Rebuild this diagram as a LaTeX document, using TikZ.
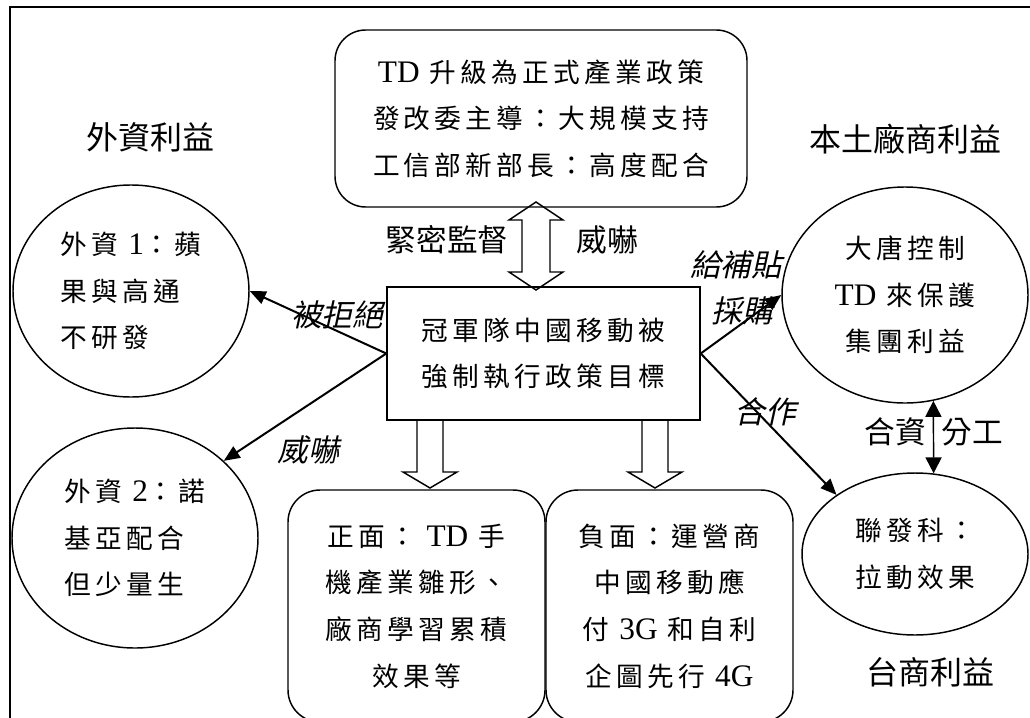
\documentclass[tikz,border=0pt]{standalone}
\usepackage{fontspec}
\setmainfont{Liberation Serif}
\newfontfamily\cjk{Noto Sans CJK TC}[LetterSpace=16]
\newfontfamily\cjkh{Noto Sans CJK TC}
\newfontfamily\cjki{Noto Sans CJK TC}[FakeSlant=0.22]
\newcommand\latn[1]{{\fontsize{23.5}{35}\rmfamily #1}}
\usetikzlibrary{shapes.geometric,arrows.meta,calc}
\begin{document}
\begin{tikzpicture}[x=0.75pt,y=-0.75pt,
  body/.style={font=\cjk\fontsize{20}{35}\selectfont, inner sep=0pt},
  rbox/.style={draw, line width=1.1pt, rounded corners=23pt, body},
  sbox/.style={draw, line width=1.1pt, body},
  ell/.style={draw, ellipse, line width=1.1pt, body},
  headlab/.style={font=\cjkh\fontsize{24}{28}\selectfont, inner sep=0pt},
  lab/.style={font=\cjkh\fontsize{23}{28}\selectfont, inner sep=0pt},
  ilab/.style={font=\cjki\fontsize{23}{28}\selectfont, inner sep=0pt},
  conn/.style={line width=1.5pt, -{Triangle[length=12pt,width=10pt]}},
  blk/.style={draw, fill=white, line width=1.1pt, line join=miter},
]
\useasboundingbox (0,0) rectangle (1030,717);
% frame
\coordinate (fTL) at (10,7);
\draw[line width=1.5pt] (10,760) -- (fTL) -- (1060,7);

% block arrows
\draw[blk] (536,202) -- (563,220) -- (550,220) -- (550,272) -- (563,272) -- (536,290)
  -- (509,272) -- (522,272) -- (522,220) -- (509,220) -- cycle;
\draw[blk] (417,420) -- (417,472) -- (403,472) -- (430,488) -- (457,472) -- (443,472) -- (443,420);
\draw[blk] (642,420) -- (642,472) -- (628,472) -- (655,488) -- (682,472) -- (668,472) -- (668,420);

% nodes
\node[rbox, minimum width=309pt, minimum height=132.75pt, align=center] (top) at (541,118.5)
  {\latn{TD} 升級為正式產業政策\\發改委主導：大規模支持\\工信部新部長：高度配合};
\node[sbox, minimum width=234.75pt, minimum height=99.75pt, align=center] (cbox) at (543.5,353.5)
  {冠軍隊中國移動被\\強制執行政策目標};
\node[ell, minimum width=177pt, minimum height=159pt, align=left] (ext1) at (131,291)
  {外資 \latn{1}：蘋\\果與高通\\不研發};
\node[ell, minimum width=184.5pt, minimum height=165pt, align=left] (ext2) at (135,538)
  {外資 \latn{2}：諾\\基亞配合\\但少量生};
\node[ell, minimum width=184.5pt, minimum height=162pt, align=center] (datang) at (905,295)
  {大唐控制\\\latn{TD} 來保護\\集團利益};
\node[ell, minimum width=169.5pt, minimum height=121.5pt, align=left] (mtk) at (915,554)
  {聯發科：\\拉動效果};
\node[rbox, rounded corners=24pt, minimum width=192.75pt, minimum height=174pt, align=center] (pos) at (416.5,606)
  {正面：\ \latn{TD} 手\\機產業雛形、\\廠商學習累積\\效果等};
\node[rbox, rounded corners=24pt, minimum width=185.25pt, minimum height=174pt, align=center] (neg) at (669.5,606)
  {負面：運營商\\中國移動應\\付 \latn{3G} 和自利\\企圖先行 \latn{4G}};

% connectors
\draw[conn] (cbox.west) -- (ext1.east);
\draw[conn] (cbox.west) -- (ext2.41.6);
\draw[conn] (cbox.east) -- (datang.west);
\draw[conn] (cbox.east) -- (mtk.143.6);
\draw[line width=1.1pt, {Triangle[length=12pt,width=12pt]}-{Triangle[length=12pt,width=12pt]}] (datang.-75) -- (mtk.77.3);

% labels
\node[headlab] (hL) at (150,137) {外資利益};
\node[headlab] (hR) at (905,139) {本土廠商利益};
\node[headlab] (hB) at (930,672) {台商利益};
\node[lab] (l1) at (447,240) {緊密監督};
\node[lab] (l2) at (607,240) {威嚇};
\node[ilab] (l3) at (337,315) {被拒絕};
\node[ilab] (l4) at (308,450) {威嚇};
\node[ilab] (l5) at (736,265) {給補貼};
\node[ilab] (l6) at (742,311) {採購};
\node[ilab] (l7) at (765,412) {合作};
\node[lab] (l8) at (895,432) {合資};
\node[lab] (l9) at (972,432) {分工};
\end{tikzpicture}
\end{document}
